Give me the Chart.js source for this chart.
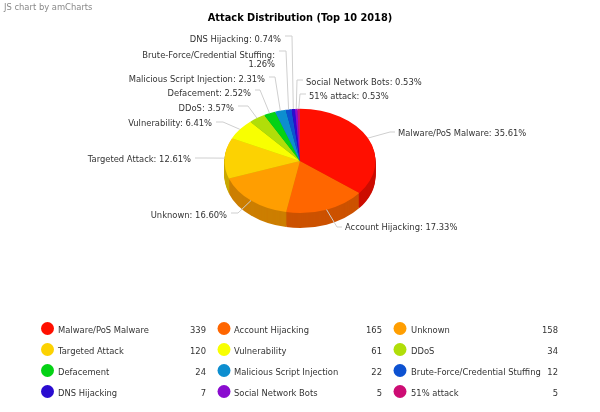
<!DOCTYPE html>
<html lang="en">
<head>
    <meta charset="UTF-8">
    <title>Attack Distribution (Top 10 2018)</title>
    <script src="https://cdn.jsdelivr.net/npm/chart.js"></script>
    <style>
        html, body {
            margin: 0;
            padding: 0;
            background: #fff;
        }
        #chart-container {
            position: relative;
            width: 600px;
            height: 412px;
            overflow: hidden;
        }
        #credit {
            position: absolute;
            left: 4px;
            top: 2px;
            font: 8.4px "DejaVu Sans", sans-serif;
            color: #888;
        }
    </style>
</head>
<body>

    <div id="chart-container">
        <canvas id="attackChart" width="600" height="412"></canvas>
        <div id="credit">JS chart by amCharts</div>
    </div>

    <script>
        // Data
        const categories = ['Malware/PoS Malware', 'Account Hijacking', 'Unknown', 'Targeted Attack', 'Vulnerability', 'DDoS',
            'Defacement', 'Malicious Script Injection', 'Brute-Force/Credential Stuffing', 'DNS Hijacking', 'Social Network Bots', '51% attack'];
        const attacks = [339, 165, 158, 120, 61, 34, 24, 22, 12, 7, 5, 5];
        const colors = ['#FF0F00', '#FF6600', '#FF9E01', '#FCD202', '#F8FF01', '#B0DE09',
            '#04D215', '#0D8ECF', '#0D52D1', '#2A0CD0', '#8A0CCF', '#CD0D74'];
        const total = attacks.reduce((a, b) => a + b, 0);

        // Pie look: flattened disc with a side wall
        const squash = 0.69;
        const depth = 15;
        const labelFont = '8.4px "DejaVu Sans", sans-serif';

        // Where the callouts sit: text anchor, elbow x, elbow y
        const callouts = [
            { x: 398, y: 134, ex: 390, ey: 132, align: 'left' },
            { x: 345, y: 228, ex: 337, ey: 227, align: 'left' },
            { x: 227, y: 216, ex: 238, ey: 213, align: 'right' },
            { x: 191, y: 160, ex: 206, ey: 158, align: 'right' },
            { x: 212, y: 124, ex: 223, ey: 122, align: 'right' },
            { x: 234, y: 109, ex: 248, ey: 106, align: 'right' },
            { x: 251, y: 94, ex: 260, ey: 90, align: 'right' },
            { x: 265, y: 80, ex: 275, ey: 77, align: 'right' },
            { x: 275, y: 56, ex: 286, ey: 51, align: 'right', wrap: 'Brute-Force/Credential Stuffing:' },
            { x: 281, y: 40, ex: 292, ey: 36, align: 'right' },
            { x: 306, y: 83, ex: 297, ey: 80, align: 'left' },
            { x: 309, y: 97, ex: 300, ey: 94, align: 'left' }
        ];

        function darken(hex, f) {
            const n = parseInt(hex.slice(1), 16);
            return 'rgb(' + Math.round((n >> 16) * f) + ',' + Math.round(((n >> 8) & 255) * f) + ',' + Math.round((n & 255) * f) + ')';
        }

        function pct(i) {
            return (attacks[i] / total * 100).toFixed(2) + '%';
        }

        const flatPie = {
            id: 'flatPie',
            beforeDatasetDraw(chart) {
                const ctx = chart.ctx;
                const arcs = chart.getDatasetMeta(0).data;
                const cx = arcs[0].x, cy = arcs[0].y;

                // side wall: the same sectors stacked downwards in a darker shade
                for (let d = depth; d >= 1; d--) {
                    arcs.forEach((arc, i) => {
                        const p = arc.getProps(['startAngle', 'endAngle', 'outerRadius'], true);
                        ctx.save();
                        ctx.translate(cx, cy + d);
                        ctx.scale(1, squash);
                        ctx.beginPath();
                        ctx.moveTo(0, 0);
                        ctx.arc(0, 0, p.outerRadius, p.startAngle, p.endAngle);
                        ctx.closePath();
                        ctx.fillStyle = darken(colors[i], 0.8);
                        ctx.fill();
                        ctx.restore();
                    });
                }

                ctx.save();
                ctx.translate(cx, cy);
                ctx.scale(1, squash);
                ctx.translate(-cx, -cy);
            },
            afterDatasetDraw(chart) {
                chart.ctx.restore();
            },
            afterDraw(chart) {
                const ctx = chart.ctx;
                const arcs = chart.getDatasetMeta(0).data;
                ctx.save();
                ctx.font = labelFont;
                ctx.textBaseline = 'middle';
                arcs.forEach((arc, i) => {
                    const c = callouts[i];
                    const p = arc.getProps(['x', 'y', 'startAngle', 'endAngle', 'outerRadius'], true);
                    const mid = (p.startAngle + p.endAngle) / 2;
                    const sx = p.x + Math.cos(mid) * p.outerRadius;
                    const sy = p.y + Math.sin(mid) * p.outerRadius * squash;
                    const tx = c.align === 'left' ? c.x - 3 : c.x + 4;

                    ctx.strokeStyle = '#cfcfcf';
                    ctx.lineWidth = 1;
                    ctx.beginPath();
                    ctx.moveTo(sx, sy);
                    ctx.lineTo(c.ex, c.ey);
                    ctx.lineTo(tx, c.ey);
                    ctx.stroke();

                    ctx.fillStyle = '#333';
                    ctx.textAlign = c.align;
                    if (c.wrap) {
                        ctx.fillText(c.wrap, c.x, c.y);
                        ctx.fillText(pct(i), c.x, c.y + 9);
                    } else {
                        ctx.fillText(categories[i] + ': ' + pct(i), c.x, c.y);
                    }
                });
                ctx.restore();
            }
        };

        // Legend: three columns of marker, name and value
        const legendCols = [
            { marker: 47.5, text: 58, value: 206 },
            { marker: 224, text: 234, value: 382 },
            { marker: 400, text: 411, value: 558 }
        ];
        const legendRows = [330, 351, 372, 393];

        const valueLegend = {
            id: 'valueLegend',
            afterDraw(chart) {
                const ctx = chart.ctx;
                ctx.save();
                ctx.font = labelFont;
                ctx.textBaseline = 'middle';
                categories.forEach((name, i) => {
                    const col = legendCols[i % 3];
                    const y = legendRows[Math.floor(i / 3)];
                    ctx.beginPath();
                    ctx.arc(col.marker, y - 1.5, 6.5, 0, Math.PI * 2);
                    ctx.fillStyle = colors[i];
                    ctx.fill();
                    ctx.fillStyle = '#333';
                    ctx.textAlign = 'left';
                    ctx.fillText(name, col.text, y + 1);
                    ctx.textAlign = 'right';
                    ctx.fillText(String(attacks[i]), col.value, y + 1);
                });
                ctx.restore();
            }
        };

        new Chart(document.getElementById('attackChart').getContext('2d'), {
            type: 'pie',
            data: {
                labels: categories,
                datasets: [{
                    data: attacks,
                    backgroundColor: colors,
                    borderWidth: 0,
                    radius: 75.5
                }]
            },
            plugins: [flatPie, valueLegend],
            options: {
                responsive: false,
                animation: false,
                layout: { padding: { top: 0, bottom: 175 } },
                plugins: {
                    legend: { display: false },
                    tooltip: { enabled: false },
                    title: {
                        display: true,
                        text: 'Attack Distribution (Top 10 2018)',
                        color: '#000',
                        font: { family: '"DejaVu Sans", sans-serif', size: 9.8, weight: 'bold' },
                        padding: { top: 13, bottom: 60 }
                    }
                }
            }
        });
    </script>
</body>
</html>
